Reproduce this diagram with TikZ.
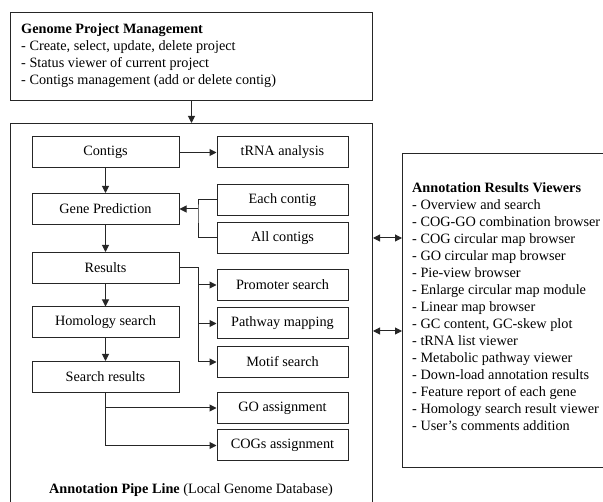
\documentclass[tikz,border=0pt]{standalone}
\usepackage{fontspec}
\setmainfont{Liberation Serif}
\usetikzlibrary{arrows.meta}
\newcommand\fsz{\fontsize{14.25}{17}\selectfont}
\begin{document}
\begin{tikzpicture}[x=1pt,y=-1pt,
  lc/.style={draw=black!85, line width=1pt},
  box/.style={lc, rectangle, inner sep=0pt, font=\fsz},
  lbox/.style={box, minimum width=147pt, minimum height=31pt},
  rbox/.style={box, minimum width=131pt, minimum height=31pt},
  arr/.style={lc, -{Triangle[length=7pt,width=7pt]}},
  darr/.style={lc, {Triangle[length=7pt,width=7pt]}-{Triangle[length=7pt,width=7pt]}},
  txt/.style={anchor=north west, inner sep=0pt, align=left, font=\fsz}]
\useasboundingbox (0,0) rectangle (603,502);
\clip (0,0) rectangle (603,502);
% frames
\node[lc, anchor=north west, minimum width=362pt, minimum height=88pt, inner sep=0pt] (gpm) at (10,12) {};
\node[txt] (gpmtext) at (21,23) {\textbf{Genome Project Management}\\- Create, select, update, delete project\\- Status viewer of current project\\- Contigs management (add or delete contig)};
\node[lc, anchor=north west, minimum width=362pt, minimum height=400pt, inner sep=0pt] (pipe) at (10,123) {};
\node[lc, anchor=north west, minimum width=230pt, minimum height=314pt, inner sep=0pt] (viewers) at (402,153) {};
\node[txt] (viewtext) at (412,182) {\textbf{Annotation Results Viewers}\\- Overview and search\\- COG-GO combination browser\\- COG circular map browser\\- GO circular map browser\\- Pie-view browser\\- Enlarge circular map module\\- Linear map browser\\- GC content, GC-skew plot\\- tRNA list viewer\\- Metabolic pathway viewer\\- Down-load annotation results\\- Feature report of each gene\\- Homology search result viewer\\- User’s comments addition};
\node[font=\fsz, inner sep=0pt] (pipelabel) at (191,490) {\textbf{Annotation Pipe Line} (Local Genome Database)};
% left column
\node[lbox] (contigs) at (105.5,152.5) {Contigs};
\node[lbox] (gp) at (105.5,209) {Gene Prediction};
\node[lbox] (results) at (105.5,268) {Results};
\node[lbox] (homology) at (105.5,322.5) {Homology search};
\node[lbox] (sresults) at (105.5,377) {Search results};
% right column
\node[rbox] (trna) at (282.5,152.5) {tRNA analysis};
\node[rbox] (each) at (282.5,200) {Each contig};
\node[rbox] (all) at (282.5,238) {All contigs};
\node[rbox] (promoter) at (282.5,285) {Promoter search};
\node[rbox] (pathway) at (282.5,323.5) {Pathway mapping};
\node[rbox] (motif) at (282.5,362) {Motif search};
\node[rbox] (go) at (282.5,408) {GO assignment};
\node[rbox] (cogs) at (282.5,445.5) {COGs assignment};
% connectors
\draw[arr] (gpm.south) -- (pipe.north);
\draw[arr] (contigs.east) -- (trna.west);
\draw[arr] (contigs.south) -- (gp.north);
\draw[arr] (gp.south) -- (results.north);
\draw[arr] (results.south) -- (homology.north);
\draw[arr] (homology.south) -- (sresults.north);
\coordinate (jm) at (198,209);
\draw[lc] (each.west) -| (jm) |- (all.west);
\draw[arr] (jm) -- (gp.east);
\coordinate (jr) at (198,268);
\draw[lc] (results.east) -- (jr) -- (jr |- motif.west);
\draw[arr] (jr |- promoter.west) -- (promoter.west);
\draw[arr] (jr |- pathway.west) -- (pathway.west);
\draw[arr] (jr |- motif.west) -- (motif.west);
\draw[arr] (sresults.south) |- (cogs.west);
\draw[arr] (sresults.south |- go.west) -- (go.west);
\coordinate (d1) at (387,238);
\coordinate (d2) at (387,331);
\draw[darr] (pipe.east |- d1) -- (viewers.west |- d1);
\draw[darr] (pipe.east |- d2) -- (viewers.west |- d2);
\end{tikzpicture}
\end{document}
